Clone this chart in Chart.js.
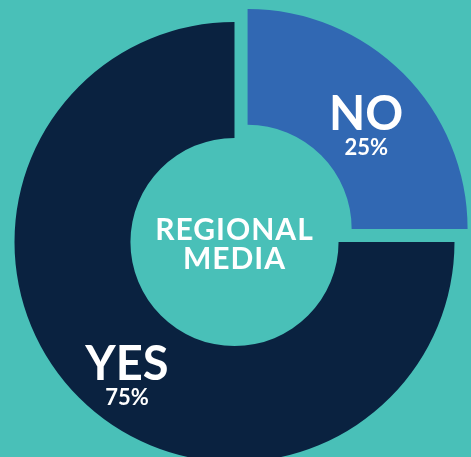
<!DOCTYPE html>
<html>
<head>
<meta charset="utf-8">
<script src="https://cdn.jsdelivr.net/npm/chart.js@4.4.1/dist/chart.umd.min.js"></script>
<style>
  html, body { margin: 0; padding: 0; background: #49c0b8; overflow: hidden; }
  #wrap { position: relative; width: 471px; height: 457px; }
</style>
</head>
<body>
<div id="wrap"><canvas id="donut"></canvas></div>
<script>
// --- data ---
const categories = ['NO', 'YES'];
const shares = [25, 75];
const centerTitle = ['REGIONAL', 'MEDIA'];

// --- colours ---
const BG = '#49c0b8';
const SLICE_COLORS = ['#3168b3', '#0a2240'];

// draws the slice names, percentages and the centre title
const donutText = {
    id: 'donutText',
    afterDatasetsDraw(chart, args, opts) {
        const ctx = chart.ctx;
        const meta = chart.getDatasetMeta(0);
        ctx.save();
        ctx.fillStyle = '#ffffff';
        ctx.textAlign = 'center';
        ctx.textBaseline = 'alphabetic';

        meta.data.forEach((arc, i) => {
            const mid = (arc.startAngle + arc.endAngle) / 2;
            const off = (arc.options.offset || 0) / 4;
            const r = (arc.innerRadius + arc.outerRadius) / 2 + off;
            const shift = opts.shift[i];
            const x = arc.x + Math.cos(mid) * r + shift[0];
            const y = arc.y + Math.sin(mid) * r + shift[1];
            ctx.font = 'bold 47px Lato';
            ctx.fillText(categories[i], x, y + 5);
            ctx.font = 'bold 22px Lato';
            ctx.fillText(shares[i] + '%', x, y + 30);
        });

        const c = meta.data[0];
        ctx.font = 'bold 30px Lato';
        if ('letterSpacing' in ctx) ctx.letterSpacing = '1px';
        ctx.fillText(centerTitle[0], c.x, c.y - 2);
        ctx.fillText(centerTitle[1], c.x, c.y + 27);
        ctx.restore();
    }
};

new Chart(document.getElementById('donut'), {
    type: 'doughnut',
    data: {
        labels: categories,
        datasets: [{
            data: shares,
            backgroundColor: SLICE_COLORS,
            borderWidth: 0,
            offset: [74, 0],
            hoverOffset: 0,
            clip: false
        }]
    },
    options: {
        responsive: true,
        maintainAspectRatio: false,
        animation: false,
        radius: 220,
        cutout: '47.3%',
        layout: { padding: { left: 0, right: 2, top: 27, bottom: 0 } },
        events: [],
        plugins: {
            legend: { display: false },
            tooltip: { enabled: false },
            donutText: { shift: [[4, 11], [7, 18]] }
        }
    },
    plugins: [donutText]
});
</script>
</body>
</html>
